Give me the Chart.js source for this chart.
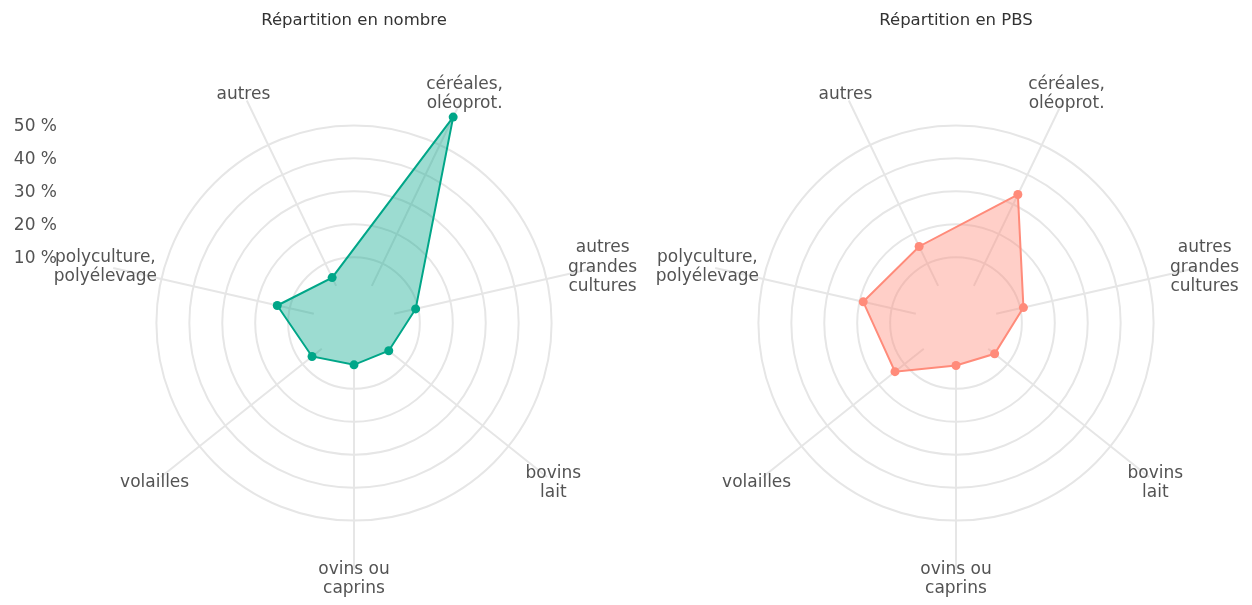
<!DOCTYPE html>
<html><head><meta charset="utf-8">
<script src="https://cdn.jsdelivr.net/npm/chart.js@4/dist/chart.umd.min.js"></script>
<style>
html,body{margin:0;padding:0;background:#fff;width:1252px;height:605px;overflow:hidden;position:relative}
.box{position:absolute;top:0;height:605px}
</style></head><body>
<div class="box" style="left:0;width:660px"><canvas id="c1"></canvas></div>
<div class="box" style="left:640px;width:612px"><canvas id="c2"></canvas></div>
<script>
const categories = [["céréales,","oléoprot."],["autres","grandes","cultures"],["bovins","lait"],["ovins ou","caprins"],["volailles"],["polyculture,","polyélevage"],["autres"]];
const nombreValues = [59.4, 9.2, 3.5, 2.7, 6.3, 13.9, 5.3];
const pbsValues = [33.3, 11.0, 5.0, 2.9, 13.7, 18.9, 15.8];
const tickValues = [10, 20, 30, 40, 50];
const tickLabels = ["10 %", "20 %", "30 %", "40 %", "50 %"];
const titles = ["Répartition en nombre", "Répartition en PBS"];

const FONT = "'DejaVu Sans', sans-serif";
const GRID = '#e6e6e6';
const TEXT = '#535353';

const radarDecor = {
  id: 'radarDecor',
  beforeDatasetsDraw(chart) {
    const s = chart.scales.r, ctx = chart.ctx;
    ctx.save();
    ctx.strokeStyle = GRID; ctx.lineWidth = 2;
    for (let i = 0; i < chart.data.labels.length; i++) {
      const a = s.getPointPositionForValue(i, 2.5);
      const b = s.getPointPositionForValue(i, s.max);
      ctx.beginPath(); ctx.moveTo(a.x, a.y); ctx.lineTo(b.x, b.y); ctx.stroke();
    }
    ctx.restore();
  },
  afterDraw(chart, args, opts) {
    const s = chart.scales.r, ctx = chart.ctx;
    ctx.save();
    ctx.fillStyle = TEXT;
    ctx.font = "17px " + FONT;
    ctx.textAlign = 'center'; ctx.textBaseline = 'middle';
    const lh = 19.5;
    chart.data.labels.forEach((lab, i) => {
      const lines = Array.isArray(lab) ? lab : [lab];
      const p = s.getPointPosition(i, s.drawingArea + 8);
      const y0 = p.y - (lines.length - 1) * lh / 2 + 1;
      lines.forEach((t, k) => ctx.fillText(t, p.x, y0 + k * lh));
    });
    if (opts.showTicks) {
      ctx.textAlign = 'right';
      tickValues.forEach((v, k) => {
        const y = s.yCenter - s.getDistanceFromCenterForValue(v) + 1;
        ctx.fillText(tickLabels[k], 57, y);
      });
    }
    ctx.restore();
  }
};

function makeChart(id, title, values, line, fill, pl, pr, showTicks) {
  return new Chart(document.getElementById(id), {
    type: 'radar',
    data: {
      labels: categories,
      datasets: [{
        data: values,
        borderColor: line,
        backgroundColor: fill,
        borderWidth: 2,
        pointRadius: 4.5,
        pointBackgroundColor: line,
        pointBorderColor: line,
        pointBorderWidth: 0,
        fill: 'start',
        tension: 0
      }]
    },
    options: {
      responsive: true, maintainAspectRatio: false, animation: false,
      layout: { padding: { left: pl, right: pr, top: 0, bottom: 34 } },
      plugins: {
        legend: { display: false },
        tooltip: { enabled: false },
        title: { display: true, text: title, color: '#333', font: { family: FONT, size: 16.5, weight: 'normal' }, padding: { top: 10.5, bottom: 46 } },
        radarDecor: { showTicks: showTicks }
      },
      scales: {
        r: {
          min: -10, max: 65,
          startAngle: 360 / 14,
          afterBuildTicks(s) { s.ticks = tickValues.map(v => ({ value: v })); },
          ticks: { display: false },
          grid: { circular: true, color: GRID, lineWidth: 2 },
          angleLines: { display: false },
          pointLabels: { display: false }
        }
      }
    },
    plugins: [radarDecor]
  });
}

makeChart('c1', titles[0], nombreValues, '#00a688', 'rgba(0,166,136,0.39)', 104, 56, true);
makeChart('c2', titles[1], pbsValues, '#ff8b7a', 'rgba(255,139,122,0.41)', 66, 46, false);
</script>
</body></html>
